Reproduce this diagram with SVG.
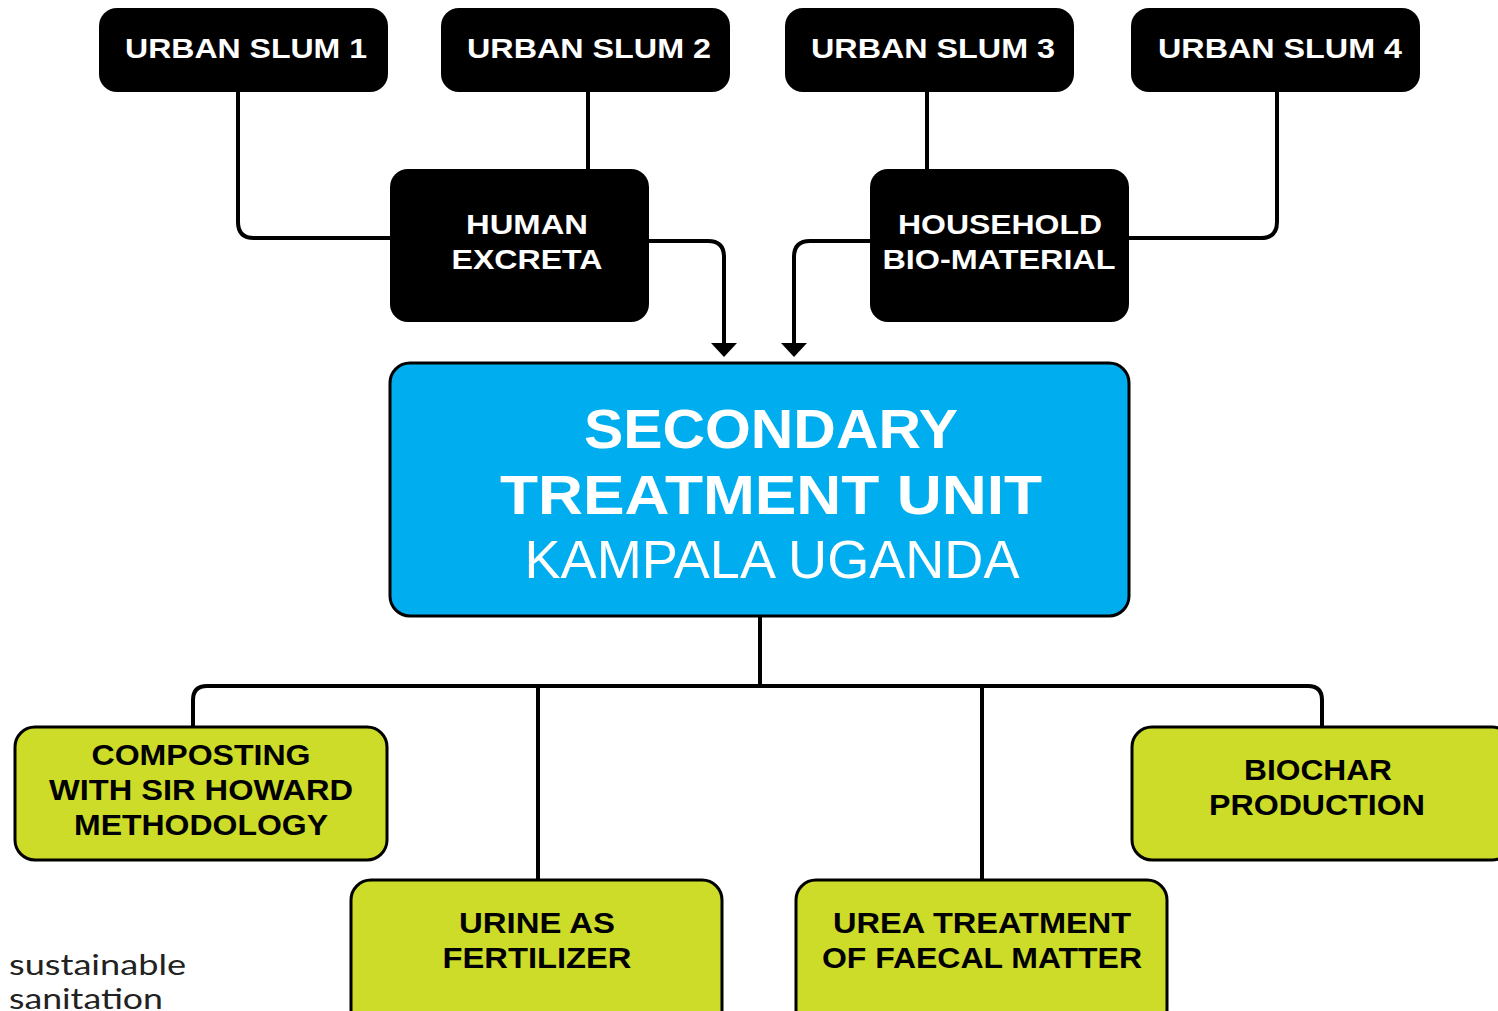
<svg xmlns="http://www.w3.org/2000/svg" width="1498" height="1011" viewBox="0 0 1498 1011">
<style>
.blk{fill:#000}
.wt{fill:#fff;font-family:"Liberation Sans",Arial,sans-serif;font-weight:900;font-size:28px;text-anchor:middle}
.grn{fill:#cddc29;stroke:#000;stroke-width:3}
.gt{fill:#000;font-family:"Liberation Sans",Arial,sans-serif;font-weight:900;font-size:29px;text-anchor:middle}
.bt{fill:#fff;font-family:"Liberation Sans",Arial,sans-serif;font-weight:900;font-size:56px;text-anchor:middle}
.ln{fill:none;stroke:#000;stroke-width:4}
</style>
<rect width="1498" height="1011" fill="#fff"/>
<g id="connectors">
<path class="ln" d="M238,92 V222 Q238,238 254,238 H392"/>
<path class="ln" d="M588,92 V171"/>
<path class="ln" d="M927,92 V171"/>
<path class="ln" d="M1277,92 V222 Q1277,238 1261,238 H1127"/>
<path class="ln" d="M647,241 H708 Q724,241 724,257 V345"/>
<path d="M711,343 L737,343 L724,357 Z" fill="#000"/>
<path class="ln" d="M872,241 H810 Q794,241 794,257 V345"/>
<path d="M781,343 L807,343 L794,357 Z" fill="#000"/>
<path class="ln" d="M760,617 V686"/>
<path class="ln" d="M193,728 V700 Q193,686 207,686 H1308 Q1322,686 1322,700 V728"/>
<path class="ln" d="M538,686 V881"/>
<path class="ln" d="M982,686 V881"/>
</g>
<g id="slum1"><rect class="blk" x="99" y="8" width="289" height="84" rx="18"/><text class="wt" x="246" y="58" textLength="242" lengthAdjust="spacingAndGlyphs">URBAN SLUM 1</text></g>
<g id="slum2"><rect class="blk" x="441" y="8" width="289" height="84" rx="18"/><text class="wt" x="589" y="58" textLength="244" lengthAdjust="spacingAndGlyphs">URBAN SLUM 2</text></g>
<g id="slum3"><rect class="blk" x="785" y="8" width="289" height="84" rx="18"/><text class="wt" x="933" y="58" textLength="244" lengthAdjust="spacingAndGlyphs">URBAN SLUM 3</text></g>
<g id="slum4"><rect class="blk" x="1131" y="8" width="289" height="84" rx="18"/><text class="wt" x="1280" y="58" textLength="244" lengthAdjust="spacingAndGlyphs">URBAN SLUM 4</text></g>
<g id="excreta"><rect class="blk" x="390" y="169" width="259" height="153" rx="18"/><text class="wt" x="527" y="234" textLength="122" lengthAdjust="spacingAndGlyphs">HUMAN</text><text class="wt" x="527" y="269" textLength="151" lengthAdjust="spacingAndGlyphs">EXCRETA</text></g>
<g id="household"><rect class="blk" x="870" y="169" width="259" height="153" rx="18"/><text class="wt" x="1000" y="234" textLength="204" lengthAdjust="spacingAndGlyphs">HOUSEHOLD</text><text class="wt" x="999" y="269" textLength="233" lengthAdjust="spacingAndGlyphs">BIO-MATERIAL</text></g>
<g id="stu">
<rect x="390" y="363" width="739" height="253" rx="20" fill="#00aeef" stroke="#000" stroke-width="3"/>
<text class="bt" x="771" y="448" textLength="374" lengthAdjust="spacingAndGlyphs">SECONDARY</text>
<text class="bt" x="771" y="514" textLength="542" lengthAdjust="spacingAndGlyphs">TREATMENT UNIT</text>
<text x="772" y="578" fill="#fff" font-family="Liberation Sans,Arial,sans-serif" font-size="54" text-anchor="middle" textLength="495" lengthAdjust="spacingAndGlyphs">KAMPALA UGANDA</text>
</g>
<g id="composting"><rect class="grn" x="15" y="727" width="372" height="133" rx="20"/><text class="gt" x="201" y="765" textLength="219" lengthAdjust="spacingAndGlyphs">COMPOSTING</text><text class="gt" x="201" y="800" textLength="304" lengthAdjust="spacingAndGlyphs">WITH SIR HOWARD</text><text class="gt" x="201" y="835" textLength="254" lengthAdjust="spacingAndGlyphs">METHODOLOGY</text></g>
<g id="biochar"><rect class="grn" x="1132" y="727" width="380" height="133" rx="20"/><text class="gt" x="1318" y="780" textLength="148" lengthAdjust="spacingAndGlyphs">BIOCHAR</text><text class="gt" x="1317" y="815" textLength="216" lengthAdjust="spacingAndGlyphs">PRODUCTION</text></g>
<g id="urine"><rect class="grn" x="351" y="880" width="371" height="150" rx="20"/><text class="gt" x="537" y="933" textLength="156" lengthAdjust="spacingAndGlyphs">URINE AS</text><text class="gt" x="537" y="968" textLength="189" lengthAdjust="spacingAndGlyphs">FERTILIZER</text></g>
<g id="urea"><rect class="grn" x="796" y="880" width="371" height="150" rx="20"/><text class="gt" x="982" y="933" textLength="298" lengthAdjust="spacingAndGlyphs">UREA TREATMENT</text><text class="gt" x="982" y="968" textLength="320" lengthAdjust="spacingAndGlyphs">OF FAECAL MATTER</text></g>
<g id="logo" font-family="Lato,'Liberation Sans',sans-serif" font-size="29" fill="#222"><text x="9" y="975" textLength="177" lengthAdjust="spacingAndGlyphs">sustainable</text><text x="9" y="1009" textLength="154" lengthAdjust="spacingAndGlyphs">sanitation</text></g>
</svg>
